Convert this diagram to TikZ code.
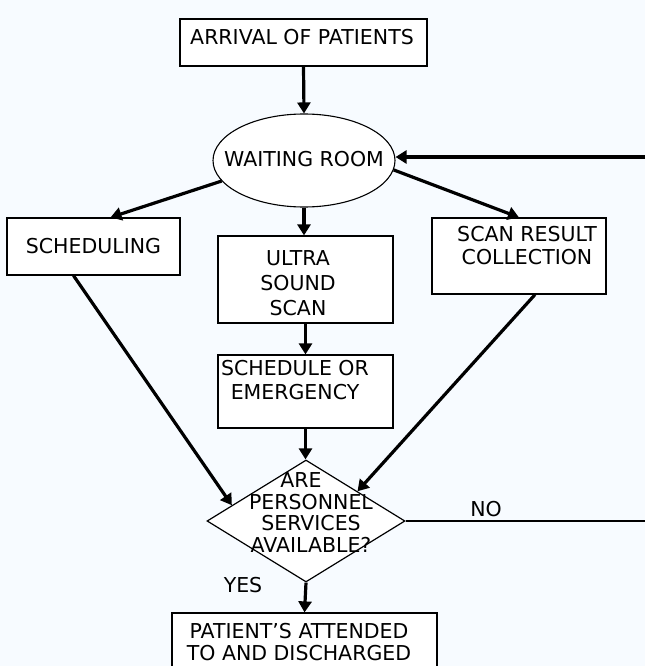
\documentclass[tikz,border=0pt]{standalone}
\usepackage{fontspec}
\setmainfont{DejaVu Sans}
\usetikzlibrary{shapes.geometric,arrows.meta,calc}
\definecolor{pagebg}{RGB}{247,251,255}
\tikzset
{
	procbox/.style = {rectangle, draw=black, line width=1.2pt, fill=white, inner sep=0pt},
	roomnode/.style = {ellipse, draw=black, line width=1.1pt, fill=white, inner sep=0pt},
	decnode/.style = {diamond, draw=black, line width=1.2pt, fill=white, inner sep=0pt},
	flowtext/.style = {align=center, inner sep=0pt, font=\fontsize{20.5}{24}\selectfont},
	flowarrow/.style = {-{Triangle[width=13pt,length=11pt]}, line width=3.2pt},
	noline/.style = {line width=1.5pt}
}

\begin{document}
\begin{tikzpicture}[x=1pt, y=-1pt]
\useasboundingbox (0,0) rectangle (645,666);
\fill[pagebg] (0,0) rectangle (645,666);

% boxes
\node[procbox, minimum width=247pt, minimum height=47pt] (arrival) at (303.5,42.5) {};
\node[flowtext] (arrivaltext) at (302,37) {ARRIVAL OF PATIENTS};
\node[roomnode, minimum width=182pt, minimum height=93pt] (wait) at (304,160.5) {};
\node[flowtext] (waittext) at (304,159) {WAITING ROOM};
\node[procbox, flowtext, minimum width=173pt, minimum height=57pt] (sched) at (93.5,246.5) {SCHEDULING};
\node[procbox, minimum width=175pt, minimum height=87pt] (ultra) at (305.5,279.5) {};
\node[flowtext, font=\fontsize{20.5}{25}\selectfont] (ultratext) at (298,283) {ULTRA\\SOUND\\SCAN};
\node[procbox, minimum width=174pt, minimum height=76pt] (scan) at (519,256) {};
\node[flowtext, font=\fontsize{20.5}{23}\selectfont] (scantext) at (527,245.5) {SCAN RESULT\\COLLECTION};
\node[procbox, minimum width=175pt, minimum height=73pt] (emerg) at (305.5,391.5) {};
\node[flowtext] (emergtext) at (295,380) {SCHEDULE OR\\EMERGENCY};
\node[decnode, minimum width=198pt, minimum height=122pt] (diam) at (306,521) {};
\node[flowtext, font=\fontsize{20.5}{21.7}\selectfont] (diamtext) at (311,512.5) {ARE\hspace*{20pt}\\PERSONNEL\\SERVICES\\AVAILABLE?};
\node[procbox, minimum width=265pt, minimum height=70pt] (final) at (304.5,648) {};
\node[flowtext, font=\fontsize{20.5}{22}\selectfont] (finaltext) at (299,642) {PATIENT’S ATTENDED\\TO AND DISCHARGED};

% labels
\node[flowtext] (yes) at (243,585) {YES};
\node[flowtext] (no) at (486,509) {NO};
\coordinate (waitin) at (645,157);
\coordinate (noend) at (645,521);

% connectors
\draw[flowarrow] (arrival.south) -- (wait.north);
\draw[flowarrow] (waitin) -- (waitin -| wait.east);
\draw[flowarrow] (wait.194) -- ($(sched.north)+(17,0)$);
\draw[flowarrow] (wait.south) -- (wait.south |- ultra.north);
\draw[flowarrow] (wait.354) -- (scan.north);
\draw[flowarrow] (ultra.south) -- (emerg.north);
\draw[flowarrow] (emerg.south) -- (emerg.south |- diam.north);
\draw[flowarrow] ($(sched.south)+(-20,0)$) -- (diam.168);
\draw[flowarrow] ($(scan.south)+(16,0)$) -- (diam.30);
\draw[noline] (diam.east) -- (noend);
\draw[flowarrow] (diam.south) -- (final.north);
\end{tikzpicture}
\end{document}
